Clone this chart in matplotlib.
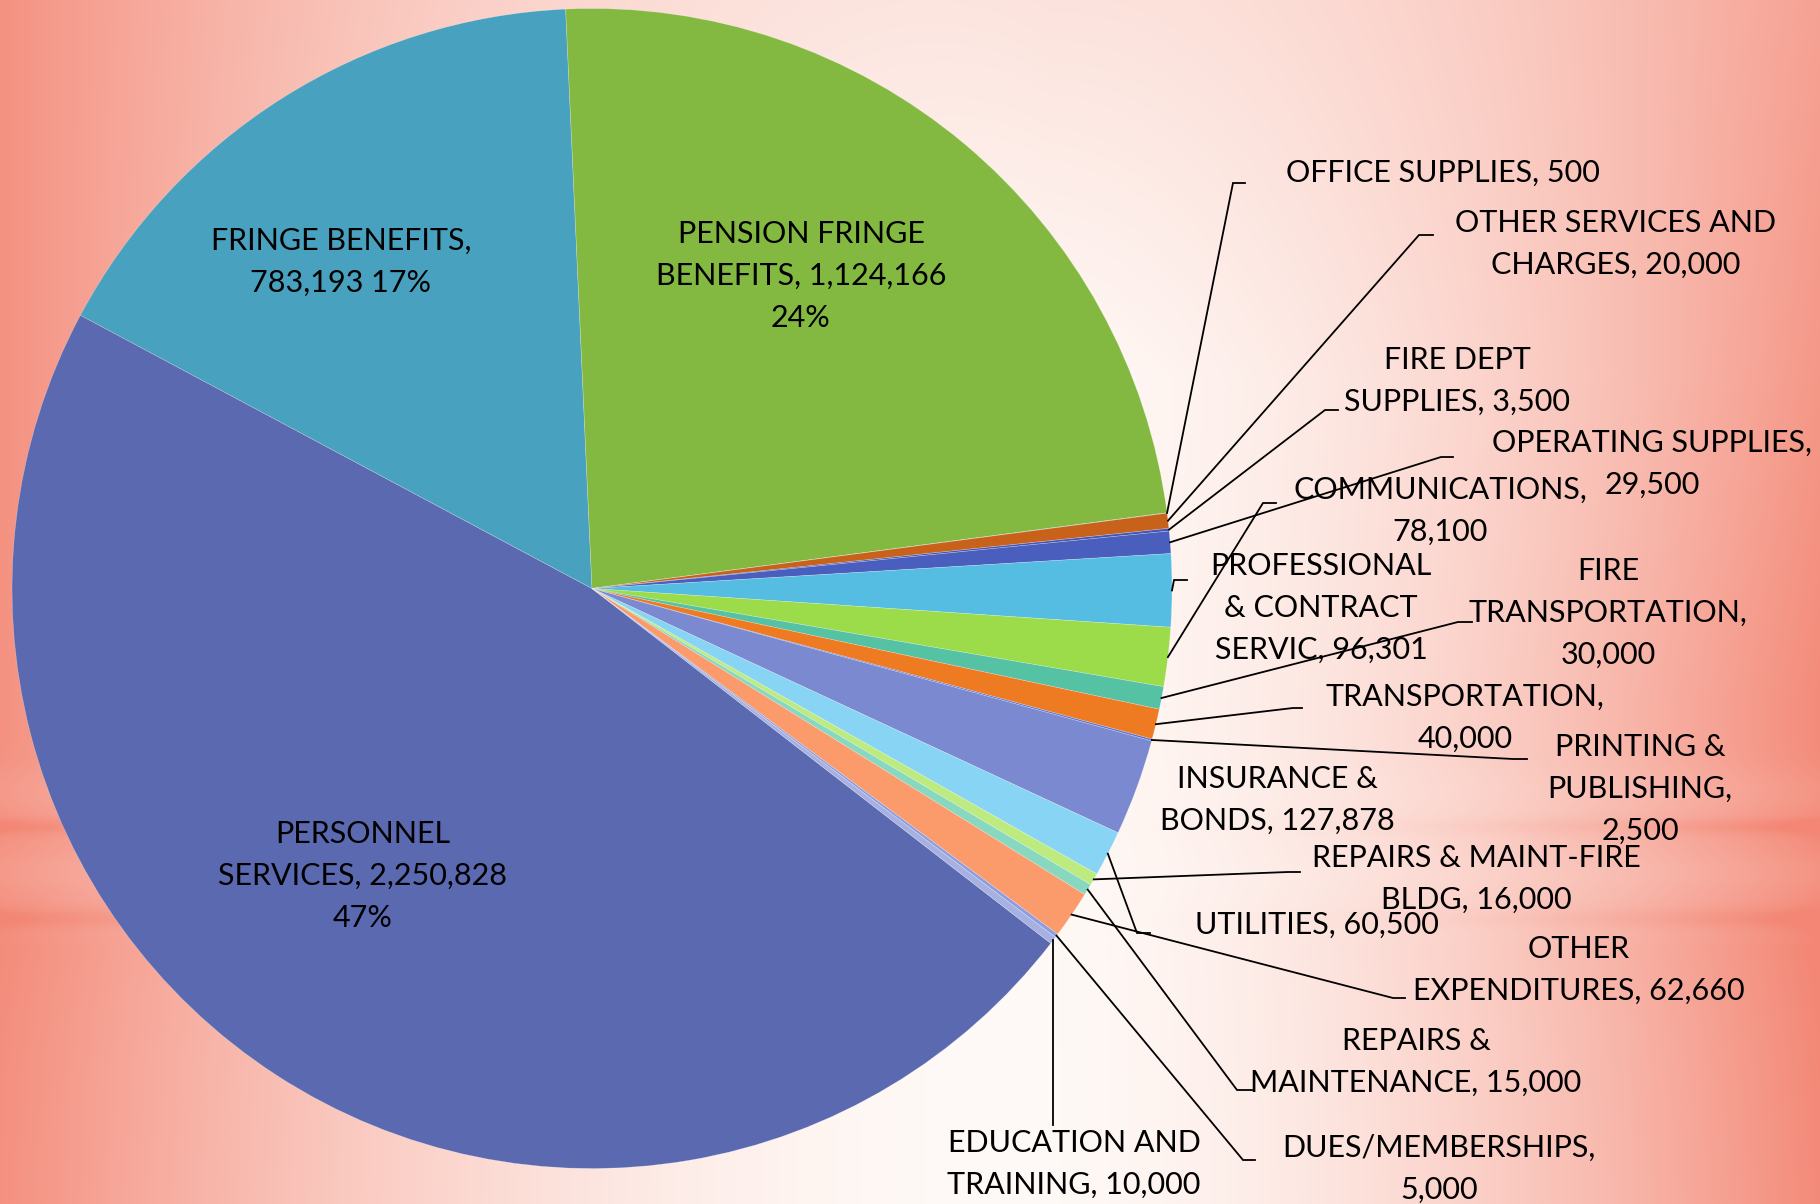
import numpy as np
import matplotlib
matplotlib.use("Agg")
import matplotlib.pyplot as plt
import matplotlib.font_manager as fm

# ---------------- data ----------------
categories = [
    "PERSONNEL SERVICES", "FRINGE BENEFITS", "PENSION FRINGE BENEFITS",
    "OFFICE SUPPLIES", "OTHER SERVICES AND CHARGES", "FIRE DEPT SUPPLIES",
    "OPERATING SUPPLIES", "PROFESSIONAL & CONTRACT SERVIC", "COMMUNICATIONS",
    "FIRE TRANSPORTATION", "TRANSPORTATION", "PRINTING & PUBLISHING",
    "INSURANCE & BONDS", "UTILITIES", "REPAIRS & MAINT-FIRE BLDG",
    "REPAIRS & MAINTENANCE", "OTHER EXPENDITURES", "DUES/MEMBERSHIPS",
    "EDUCATION AND TRAINING",
]
values = [
    2250828, 783193, 1124166,
    500, 20000, 3500,
    29500, 96301, 78100,
    30000, 40000, 2500,
    127878, 60500, 16000,
    15000, 62660, 5000,
    10000,
]
percent_labels = {0: "47%", 1: "17%", 2: "24%"}

colors = [
    "#5A69B0", "#48A1BF", "#84B941",
    "#3FAE93", "#C8621B", "#4455B5",
    "#4A5EBE", "#55BDE2", "#9CDC4A",
    "#55C2A4", "#EE7A22", "#5E72D0",
    "#7B8AD0", "#88D4F4", "#BDEB80",
    "#88D8C0", "#FB9A6B", "#8E9CE0",
    "#A6B1E2",
]

# word indices after which a label line breaks (layout)
breaks = [
    [1, 3], [2], [2, 4],
    [], [3], [2],
    [2], [1, 3], [1],
    [1, 2], [1], [2, 3],
    [2], [], [3],
    [2], [1], [1],
    [2],
]

# ---------------- layout (image pixel coords, y downward) ----------------
W, H = 1820, 1204
CX, CY, R = 592, 588.5, 580
START = -37.72

label_pos = [
    (363, 876), (341, 262), (801, 276),
    (1443, 173), (1616, 244), (1457, 381),
    (1652, 464), (1321, 608), (1440, 511),
    (1608, 613), (1465, 718), (1640, 789),
    (1277, 800), (1317, 925), (1476, 879),
    (1416, 1062), (1579, 970), (1439, 1169),
    (1074, 1164),
]
# leader: (elbow_x, elbow_y, end_x); elbow_x None -> vertical from edge
leaders = {
    3: (1233, 183, 1245),
    4: (1419, 235, 1433),
    5: (1325, 410, 1338),
    6: (1441, 457, 1453),
    7: (1174, 580, 1187),
    8: (1263, 503, 1276),
    9: (1458, 622, 1472),
    10: (1293, 708, 1302),
    11: (1513, 759, 1527),
    13: (1137, 933, 1150),
    14: (1288, 872, 1300),
    15: (1237, 1090, 1252),
    16: (1393, 998, 1405),
    17: (1243, 1160, 1255),
    18: (None, 1125, None),
}

def Y(y):
    return H - y

# ---------------- font ----------------
avail = {f.name for f in fm.fontManager.ttflist}
if "Liberation Sans Narrow" in avail:
    FONT, FS, LS = "Liberation Sans Narrow", 23, 1.55
else:
    FONT, FS, LS = "Lato", 22, 1.6
plt.rcParams["font.family"] = [FONT, "DejaVu Sans"]

# ---------------- background ----------------
yy, xx = np.mgrid[0:H, 0:W].astype(float)
xc = 1000.0
dx = np.where(xx < xc, (xc - xx) / 1060.0, (xx - xc) / 840.0)
t = np.clip(dx, 0, 1) ** 1.8
# right side lighter towards the top
t = t * np.where(xx > xc, 0.75 + 0.25 * np.clip(yy / 700.0, 0, 1), 1.0)
t = t + 0.2 * np.clip(1 - yy / 380.0, 0, 1) * np.clip(1 - np.abs(xx - 1050) / 1000, 0, 1)
band = (0.14 * np.exp(-((yy - 826) / 8.0) ** 2)
        + 0.14 * np.exp(-((yy - 918) / 10.0) ** 2)
        + 0.06 * np.clip((yy - 918) / 30.0, 0, 1) * np.exp(-np.clip(yy - 948, 0, None) / 120.0)
        - 0.08 * np.exp(-((yy - 872) / 22.0) ** 2)
        - 0.08 * np.exp(-((yy - 790) / 25.0) ** 2))
t = np.clip(t * (1 + band), 0, 1)
salmon = np.array([243, 134, 116]) / 255.0
light = np.array([255, 250, 247]) / 255.0
bg = light[None, None, :] * (1 - t[..., None]) + salmon[None, None, :] * t[..., None]

# ---------------- figure ----------------
fig = plt.figure(figsize=(W / 100, H / 100), dpi=100)
ax = fig.add_axes([0, 0, 1, 1])
ax.imshow(bg, extent=(0, W, 0, H), origin="upper", zorder=0, aspect="auto")

wedges, _ = ax.pie(values, colors=colors, startangle=START, counterclock=False,
                   center=(CX, Y(CY)), radius=R,
                   wedgeprops=dict(linewidth=0.4, edgecolor=(1, 1, 1, 0.35)))
for w in wedges:
    w.set_zorder(2)

for i, (cat, val) in enumerate(zip(categories, values)):
    words = f"{cat}, {val:,}".split(" ")
    if i in percent_labels:
        words.append(percent_labels[i])
    lines, cur = [], []
    for k, wd in enumerate(words, start=1):
        cur.append(wd)
        if k in breaks[i]:
            lines.append(" ".join(cur))
            cur = []
    if cur:
        lines.append(" ".join(cur))
    txt = "\n".join(lines)
    lx, ly = label_pos[i]
    ax.text(lx, Y(ly), txt, ha="center", va="center", fontsize=FS,
            color="black", linespacing=LS, zorder=5)

    if i in leaders:
        w = wedges[i]
        mid = np.deg2rad((w.theta1 + w.theta2) / 2)
        px = CX + R * np.cos(mid)
        py = Y(CY) + R * np.sin(mid)
        ex, ey, hx = leaders[i]
        if ex is None:
            ax.plot([px, px], [py, Y(ey)], color="black", lw=1.3, zorder=4)
        else:
            ax.plot([px, ex, hx], [py, Y(ey), Y(ey)], color="black", lw=1.3,
                    zorder=4, solid_joinstyle="miter")

ax.set_xlim(0, W)
ax.set_ylim(0, H)
ax.set_aspect("auto")
ax.axis("off")
fig.savefig("out.png", dpi=100)
